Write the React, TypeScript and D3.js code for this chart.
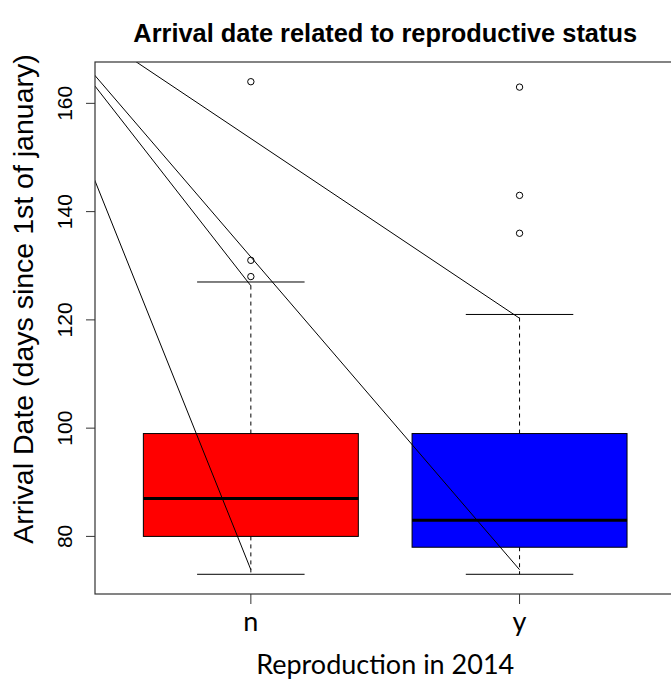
import React from "react";
import * as d3 from "d3";

const groups = ["n", "y"];
const boxColors = ["#ff0000", "#0000ff"];
const q1 = [80, 78];
const medians = [87, 83];
const q3 = [99, 99];
const whiskerLow = [73, 73];
const whiskerHigh = [127, 121];
const outliersN = [164, 131, 128];
const outliersY = [163, 143, 136];
const outliers = [outliersN, outliersY];
const yTicks = [80, 100, 120, 140, 160];

// extra straight lines drawn on the plot (group position, value)
const lineStartX = [0, 0, 0, 0];
const lineStartY = [197.7, 189.9, 189.4, 186.7];
const lineEndX = [1, 1, 2, 2];
const lineEndY = [73.85, 126.3, 73.85, 120.3];

const W = 671;
const H = 680;
const left = 95;
const right = 675.4;
const top = 62;
const bottom = 594;

const ARIAL = "'Liberation Sans', Arial, Helvetica, sans-serif";
const CALIBRI = "Lato, 'Open Sans', sans-serif";

export default function App() {
  const allVals = [...whiskerLow, ...whiskerHigh, ...outliersN, ...outliersY];
  const lo = d3.min(allVals)!;
  const hi = d3.max(allVals)!;
  const pad = (hi - lo) * 0.04;
  const y = d3.scaleLinear().domain([lo - pad, hi + pad]).range([bottom, top]);
  const x = d3.scaleLinear().domain([0.42, 2.58]).range([left, right]);
  const cx = (left + right) / 2;
  const boxHalf = x(1.4) - x(1);
  const capHalf = x(1.2) - x(1);

  return (
    <svg
      width={W}
      height={H}
      style={{ position: "fixed", left: 0, top: 0, background: "#fff" }}
    >
      <rect x={0} y={0} width={W} height={H} fill="#fff" />
      <defs>
        <clipPath id="plotClip">
          <rect x={left} y={top} width={right - left} height={bottom - top} />
        </clipPath>
      </defs>
      <text
        x={cx}
        y={42}
        textAnchor="middle"
        style={{ fontFamily: ARIAL, fontWeight: "bold", fontSize: "25.4px" }}
      >
        Arrival date related to reproductive status
      </text>

      {groups.map((g, i) => {
        const gx = x(i + 1);
        return (
          <g key={g}>
            <line x1={gx} x2={gx} y1={y(q3[i])} y2={y(whiskerHigh[i])} stroke="#000" strokeDasharray="4,4" />
            <line x1={gx} x2={gx} y1={y(q1[i])} y2={y(whiskerLow[i])} stroke="#000" strokeDasharray="4,4" />
            <line x1={gx - capHalf} x2={gx + capHalf} y1={y(whiskerHigh[i])} y2={y(whiskerHigh[i])} stroke="#000" />
            <line x1={gx - capHalf} x2={gx + capHalf} y1={y(whiskerLow[i])} y2={y(whiskerLow[i])} stroke="#000" />
            <rect
              x={gx - boxHalf}
              y={y(q3[i])}
              width={boxHalf * 2}
              height={y(q1[i]) - y(q3[i])}
              fill={boxColors[i]}
              stroke="#000"
              strokeWidth={1}
            />
            <line x1={gx - boxHalf} x2={gx + boxHalf} y1={y(medians[i])} y2={y(medians[i])} stroke="#000" strokeWidth={3} />
            {outliers[i].map((v, j) => (
              <circle key={j} cx={gx} cy={y(v)} r={3.2} fill="none" stroke="#000" strokeWidth={1} />
            ))}
          </g>
        );
      })}

      <g clipPath="url(#plotClip)">
        {lineStartX.map((sx, i) => (
          <line
            key={i}
            x1={x(sx)}
            y1={y(lineStartY[i])}
            x2={x(lineEndX[i])}
            y2={y(lineEndY[i])}
            stroke="#000"
            strokeWidth={1}
          />
        ))}
      </g>

      <rect x={left} y={top} width={right - left} height={bottom - top} fill="none" stroke="#333" strokeWidth={1.2} />

      {yTicks.map((t) => (
        <g key={t}>
          <line x1={left} x2={left - 9} y1={y(t)} y2={y(t)} stroke="#333" />
          <text
            transform={`translate(72,${y(t)}) rotate(-90)`}
            textAnchor="middle"
            style={{ fontFamily: ARIAL, fontSize: "21px" }}
          >
            {t}
          </text>
        </g>
      ))}
      <text
        transform={`translate(33,299) rotate(-90)`}
        textAnchor="middle"
        style={{ fontFamily: ARIAL, fontSize: "28.5px" }}
      >
        Arrival Date (days since 1st of january)
      </text>

      {groups.map((g, i) => (
        <g key={g}>
          <line x1={x(i + 1)} x2={x(i + 1)} y1={bottom} y2={bottom + 10} stroke="#333" />
          <text x={x(i + 1)} y={631} textAnchor="middle" style={{ fontFamily: CALIBRI, fontSize: "27px" }}>
            {g}
          </text>
        </g>
      ))}
      <text x={cx} y={674} textAnchor="middle" style={{ fontFamily: CALIBRI, fontSize: "27px" }}>
        Reproduction in 2014
      </text>
    </svg>
  );
}
